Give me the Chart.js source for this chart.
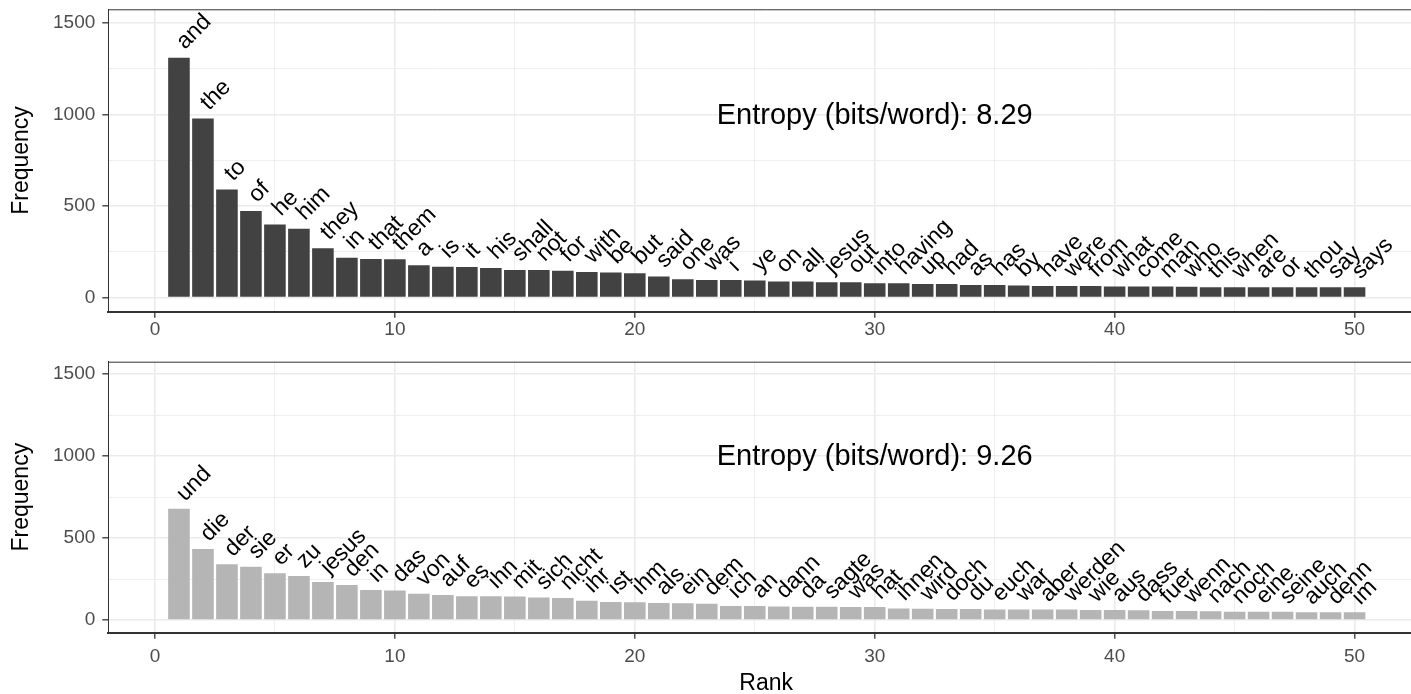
<!DOCTYPE html>
<html>
<head>
<meta charset="utf-8">
<title>Word frequency by rank</title>
<script src="https://cdn.jsdelivr.net/npm/chart.js@4.4.1/dist/chart.umd.min.js"></script>
<style>
    html, body { margin: 0; padding: 0; background: #fff; overflow: hidden; width: 1411px; height: 694px; }
    canvas { position: absolute; left: 0; }
    #topChart { top: 0; }
    #bottomChart { top: 345px; }
</style>
</head>
<body>
<canvas id="topChart" width="1430" height="345"></canvas>
<canvas id="bottomChart" width="1430" height="349"></canvas>
<script>
// Rank of each word (x axis)
const ranks = [1, 2, 3, 4, 5, 6, 7, 8, 9, 10, 11, 12, 13, 14, 15, 16, 17, 18, 19, 20,
    21, 22, 23, 24, 25, 26, 27, 28, 29, 30, 31, 32, 33, 34, 35, 36, 37, 38, 39, 40,
    41, 42, 43, 44, 45, 46, 47, 48, 49, 50];

// English panel
const englishWords = ['and', 'the', 'to', 'of', 'he', 'him', 'they', 'in', 'that', 'them',
    'a', 'is', 'it', 'his', 'shall', 'not', 'for', 'with', 'be', 'but',
    'said', 'one', 'was', 'i', 'ye', 'on', 'all', 'jesus', 'out', 'into',
    'having', 'up', 'had', 'as', 'has', 'by', 'have', 'were', 'from', 'what',
    'come', 'man', 'who', 'this', 'when', 'are', 'or', 'thou', 'say', 'says'];
const englishFreq = [1311, 978, 591, 473, 400, 376, 269, 218, 211, 209,
    177, 169, 167, 162, 151, 151, 147, 140, 137, 133,
    115, 100, 96, 96, 93, 88, 88, 84, 84, 78,
    78, 75, 74, 69, 69, 66, 64, 64, 64, 60,
    60, 60, 59, 57, 57, 57, 57, 56, 56, 56];

// German panel
const germanWords = ['und', 'die', 'der', 'sie', 'er', 'zu', 'jesus', 'den', 'in', 'das',
    'von', 'auf', 'es', 'ihn', 'mit', 'sich', 'nicht', 'ihr', 'ist', 'ihm',
    'als', 'ein', 'dem', 'ich', 'an', 'dann', 'da', 'sagte', 'was', 'hat',
    'ihnen', 'wird', 'doch', 'du', 'euch', 'war', 'aber', 'werden', 'wie', 'aus',
    'dass', 'fuer', 'wenn', 'nach', 'noch', 'eine', 'seine', 'auch', 'denn', 'im'];
const germanFreq = [678, 433, 340, 325, 285, 269, 232, 214, 183, 181,
    160, 153, 145, 145, 143, 137, 135, 118, 110, 108,
    104, 102, 100, 85, 85, 83, 81, 81, 79, 79,
    71, 69, 68, 67, 65, 65, 64, 64, 61, 61,
    60, 55, 55, 54, 51, 50, 50, 47, 47, 47];

const entropyValues = [8.29, 9.26];

// Axis ticks
const xMajorTicks = [0, 10, 20, 30, 40, 50];
const yMajorTicks = [0, 500, 1000, 1500];

// Styling / placement constants
const FONT = '"Liberation Sans", Arial, Helvetica, sans-serif';
const LABEL_NUDGE = 42;          // label offset above bar, in data units
const ENTROPY_AT = { x: 30, y: 1000 };

function isMajor(list, v) {
    return list.indexOf(Math.round(v * 1000) / 1000) !== -1;
}

// Draws the rotated word labels, the entropy note and the top panel border
function makeLabelPlugin(words, freqs, entropy) {
    return {
        id: 'barLabels',
        afterDatasetsDraw(chart) {
            const { ctx, chartArea } = chart;
            const meta = chart.getDatasetMeta(0);
            const xScale = chart.scales.x;
            const yScale = chart.scales.y;

            ctx.save();
            ctx.strokeStyle = '#333333';
            ctx.lineWidth = 1;
            ctx.beginPath();
            ctx.moveTo(chartArea.left, chartArea.top + 0.5);
            ctx.lineTo(chartArea.right, chartArea.top + 0.5);
            ctx.stroke();

            ctx.font = '23px ' + FONT;
            ctx.fillStyle = '#000';
            ctx.textAlign = 'left';
            ctx.textBaseline = 'alphabetic';
            meta.data.forEach((bar, i) => {
                ctx.save();
                ctx.translate(bar.x + 6, yScale.getPixelForValue(freqs[i] + LABEL_NUDGE));
                ctx.rotate(-Math.PI / 4);
                ctx.fillText(words[i], 0, 0);
                ctx.restore();
            });

            ctx.font = '29px ' + FONT;
            ctx.textAlign = 'center';
            ctx.textBaseline = 'middle';
            ctx.fillText('Entropy (bits/word): ' + entropy.toFixed(2),
                xScale.getPixelForValue(ENTROPY_AT.x), yScale.getPixelForValue(ENTROPY_AT.y) + 1);
            ctx.restore();
        }
    };
}

function makePanel(canvasId, words, freqs, barColor, entropy, layoutTop, xAxisHeight, tickPad, showRank) {
    const ctx = document.getElementById(canvasId).getContext('2d');
    return new Chart(ctx, {
        type: 'bar',
        data: {
            datasets: [{
                data: ranks.map((r, i) => ({ x: r, y: freqs[i] })),
                backgroundColor: barColor,
                borderWidth: 0,
                categoryPercentage: 0.9,
                barPercentage: 1
            }]
        },
        options: {
            responsive: false,
            animation: false,
            layout: { padding: { top: layoutTop, right: 6, left: 0, bottom: 0 } },
            plugins: {
                legend: { display: false },
                tooltip: { enabled: false }
            },
            scales: {
                x: {
                    type: 'linear',
                    min: -1.945,
                    max: 52.895,
                    offset: false,
                    afterFit: s => { s.height = xAxisHeight; s.paddingLeft = 0; s.paddingRight = 0; },
                    ticks: {
                        stepSize: 5,
                        includeBounds: false,
                        autoSkip: false,
                        maxRotation: 0,
                        maxTicksLimit: 100,
                        padding: tickPad,
                        color: '#4D4D4D',
                        font: { family: FONT, size: 19 },
                        callback: v => isMajor(xMajorTicks, v) ? String(v) : ''
                    },
                    grid: {
                        offset: false,
                        color: '#EBEBEB',
                        lineWidth: c => (c.tick && isMajor(xMajorTicks, c.tick.value)) ? 1.6 : 0.8,
                        tickLength: 6,
                        tickWidth: 1.3,
                        tickColor: c => (c.tick && isMajor(xMajorTicks, c.tick.value)) ? '#333333' : 'rgba(0,0,0,0)'
                    },
                    border: { color: '#333333', width: 2 },
                    title: {
                        display: showRank,
                        text: 'Rank',
                        color: '#000',
                        padding: { top: 0, bottom: 0 },
                        font: { family: FONT, size: 23, lineHeight: 0.9 }
                    }
                },
                y: {
                    min: -77,
                    max: 1575,
                    afterFit: s => { s.width = 108.3; s.paddingTop = 0; s.paddingBottom = 0; },
                    ticks: {
                        stepSize: 250,
                        includeBounds: false,
                        maxTicksLimit: 100,
                        padding: 7,
                        color: '#4D4D4D',
                        font: { family: FONT, size: 19 },
                        callback: v => isMajor(yMajorTicks, v) ? String(v) : ''
                    },
                    grid: {
                        color: '#EBEBEB',
                        lineWidth: c => (c.tick && isMajor(yMajorTicks, c.tick.value)) ? 1.6 : 0.8,
                        tickLength: 6,
                        tickWidth: 1.3,
                        tickColor: c => (c.tick && isMajor(yMajorTicks, c.tick.value)) ? '#333333' : 'rgba(0,0,0,0)'
                    },
                    border: { color: '#333333', width: 1 },
                    title: {
                        display: true,
                        text: 'Frequency',
                        color: '#000',
                        padding: { top: 7.7, bottom: 0 },
                        font: { family: FONT, size: 23 }
                    }
                }
            }
        },
        plugins: [makeLabelPlugin(words, freqs, entropy)]
    });
}

makePanel('topChart', englishWords, englishFreq, '#424242', entropyValues[0], 9.3, 33.3, 1, false);
makePanel('bottomChart', germanWords, germanFreq, '#B5B5B5', entropyValues[1], 16.7, 61.3, 7, true);
</script>
</body>
</html>
